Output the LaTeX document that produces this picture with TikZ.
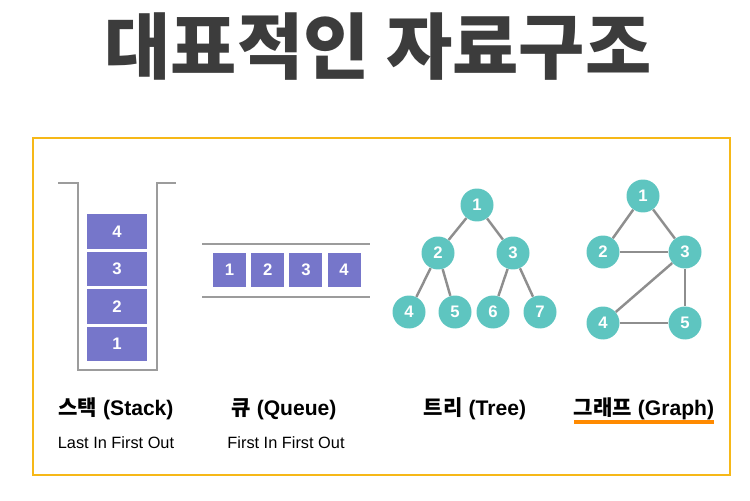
\documentclass[tikz,border=0pt]{standalone}
\usepackage{fontspec}
\setmainfont{Liberation Sans}
\newfontfamily\kr{Noto Sans CJK KR}
\newfontfamily\krheavy{Noto Sans CJK KR Black}
\usetikzlibrary{positioning}
\definecolor{TitleGray}{HTML}{3C3C3C}
\definecolor{BoxPurple}{HTML}{7676CA}
\definecolor{NodeTeal}{HTML}{5EC5C0}
\definecolor{LineGray}{HTML}{8E8E8E}
\definecolor{WallGray}{HTML}{9C9C9C}
\definecolor{FrameYellow}{HTML}{F6B818}
\definecolor{MarkOrange}{HTML}{FF8A00}

\begin{document}
\begin{tikzpicture}[x=0.02cm,y=-0.02cm,
    stackbox/.style={fill=BoxPurple,text=white,font=\bfseries\fontsize{9.5}{10}\selectfont,
      inner sep=0pt,minimum width=1.2cm,minimum height=0.69cm},
    queuebox/.style={stackbox,minimum width=0.66cm,minimum height=0.68cm},
    vertex/.style={circle,fill=NodeTeal,text=white,inner sep=0pt,minimum size=0.66cm,
      font=\bfseries\fontsize{9.5}{10}\selectfont},
    edge/.style={LineGray,line width=1.4pt},
    wall/.style={WallGray,line width=1.7pt},
    title/.style={font=\bfseries\fontsize{12}{14}\selectfont},
    caption/.style={font=\fontsize{9.3}{11}\selectfont}]
  \useasboundingbox (0,0) rectangle (750,500);
  \node[text=TitleGray,font=\krheavy\fontsize{41}{44}\selectfont] (heading) at (378,47) {대표적인 자료구조};
  \draw[FrameYellow,line width=1.2pt] (33,138) rectangle (730,475);

  % Stack
  \draw[wall] (58,183) -- (78,183) -- (78,370) -- (157,370) -- (157,183) -- (176,183);
  \node[stackbox] (s1) at (117,344) {1};
  \node[stackbox,above=0.045cm of s1] (s2) {2};
  \node[stackbox,above=0.045cm of s2] (s3) {3};
  \node[stackbox,above=0.045cm of s3] (s4) {4};

  % Queue
  \draw[wall] (202,244) -- (370,244);
  \draw[wall] (202,297) -- (370,297);
  \node[queuebox] (q1) at (229.5,270) {1};
  \node[queuebox,right=0.09cm of q1] (q2) {2};
  \node[queuebox,right=0.09cm of q2] (q3) {3};
  \node[queuebox,right=0.09cm of q3] (q4) {4};

  % Tree
  \node[vertex] (t1) at (477,205) {1};
  \node[vertex] (t2) at (438,253) {2};
  \node[vertex] (t3) at (513,253) {3};
  \node[vertex] (t4) at (409,312) {4};
  \node[vertex] (t5) at (455,312) {5};
  \node[vertex] (t6) at (493,312) {6};
  \node[vertex] (t7) at (540,312) {7};
  \draw[edge] (t1) -- (t2);
  \draw[edge] (t1) -- (t3);
  \draw[edge] (t2) -- (t4);
  \draw[edge] (t2) -- (t5);
  \draw[edge] (t3) -- (t6);
  \draw[edge] (t3) -- (t7);

  % Graph
  \node[vertex] (g1) at (643,196) {1};
  \node[vertex] (g2) at (603,252) {2};
  \node[vertex] (g3) at (685,252) {3};
  \node[vertex] (g4) at (603,323) {4};
  \node[vertex] (g5) at (685,323) {5};
  \draw[edge] (g1) -- (g2);
  \draw[edge] (g1) -- (g3);
  \draw[edge] (g2) -- (g3);
  \draw[edge] (g3) -- (g4);
  \draw[edge] (g3) -- (g5);
  \draw[edge] (g4) -- (g5);

  % Labels
  \node[title] (stacklbl) at (116,409) {{\kr 스택} (Stack)};
  \node[caption] (stacksub) at (116,443) {Last In First Out};
  \node[title] (queuelbl) at (284,409) {{\kr 큐} (Queue)};
  \node[caption] (queuesub) at (286,443) {First In First Out};
  \node[title] (treelbl) at (475,409) {{\kr 트리} (Tree)};
  \node[title] (graphlbl) at (644,409) {{\kr 그래프} (Graph)};
  \coordinate (ulstart) at (574,422);
  \coordinate (ulend) at (714,422);
  \draw[MarkOrange,line width=2pt] (ulstart) -- (ulend);
\end{tikzpicture}
\end{document}
